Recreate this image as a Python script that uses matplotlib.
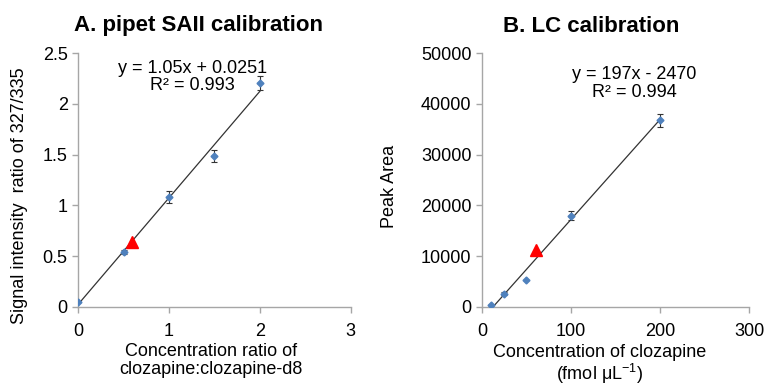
import numpy as np
import matplotlib.pyplot as plt

plt.rcParams['font.family'] = ['Liberation Sans', 'DejaVu Sans']
plt.rcParams['mathtext.fontset'] = 'custom'
plt.rcParams['mathtext.rm'] = 'Liberation Sans'
plt.rcParams['mathtext.it'] = 'Liberation Sans:italic'

# Panel A: pipet SAII calibration
a_x = [0, 0.5, 1, 1.5, 2]
a_y = [0.05, 0.54, 1.08, 1.49, 2.21]
a_err = [0.0, 0.02, 0.06, 0.06, 0.07]
a_sample = (0.59, 0.64)
a_fit = (1.05, 0.0251)

# Panel B: LC calibration
b_x = [10, 25, 50, 100, 200]
b_y = [400, 2600, 5300, 18000, 36800]
b_err = [0, 300, 0, 900, 1300]
b_sample = (61, 11200)
b_fit = (197, -2470)

blue = '#4F81BD'
grey = '#A6A6A6'

fig = plt.figure(figsize=(7.66, 3.91), dpi=100)
axA = fig.add_axes([0.102, 0.215, 0.356, 0.649])
axB = fig.add_axes([0.629, 0.215, 0.349, 0.649])


def style(ax):
    for s in ['top', 'right']:
        ax.spines[s].set_visible(False)
    for s in ['left', 'bottom']:
        ax.spines[s].set_color(grey)
        ax.spines[s].set_linewidth(1.0)
    ax.tick_params(axis='both', colors=grey, labelcolor='black',
                   labelsize=13, length=4, width=1)
    ax.tick_params(axis='x', pad=7.5)


# (A)
style(axA)
xs = np.array([0, 2])
axA.plot(xs, a_fit[0] * xs + a_fit[1], color='#333333', lw=0.9, zorder=2)
axA.errorbar(a_x, a_y, yerr=a_err, fmt='D', ms=3.5, color=blue,
             ecolor='#333333', elinewidth=0.8, capsize=2.5, capthick=0.8, zorder=3)
axA.plot(*a_sample, marker='^', color='red', ms=9, zorder=4)
axA.set_xlim(0, 3)
axA.set_ylim(0, 2.5)
axA.set_xticks([0, 1, 2, 3])
axA.set_yticks([0, 0.5, 1, 1.5, 2, 2.5])
axA.set_yticklabels(['0', '0.5', '1', '1.5', '2', '2.5'])
axA.text(0.42, 0.975, 'y = 1.05x + 0.0251\nR² = 0.993', transform=axA.transAxes,
         ha='center', va='top', fontsize=13, linespacing=1.0)

# (B)
style(axB)
x0 = -b_fit[1] / b_fit[0]
xs = np.array([x0, 200])
axB.plot(xs, b_fit[0] * xs + b_fit[1], color='#333333', lw=0.9, zorder=2)
axB.errorbar(b_x, b_y, yerr=b_err, fmt='D', ms=3.5, color=blue,
             ecolor='#333333', elinewidth=0.8, capsize=2.5, capthick=0.8, zorder=3)
axB.plot(*b_sample, marker='^', color='red', ms=9, zorder=4)
axB.set_xlim(0, 300)
axB.set_ylim(0, 50000)
axB.set_xticks([0, 100, 200, 300])
axB.set_yticks([0, 10000, 20000, 30000, 40000, 50000])
axB.text(0.57, 0.95, 'y = 197x - 2470\nR² = 0.994', transform=axB.transAxes,
         ha='center', va='top', fontsize=13, linespacing=1.05)

# titles and labels
fig.text(198 / 766, 1 - 26 / 391, 'A. pipet SAII calibration', ha='center', va='center',
         fontsize=16, fontweight='bold')
fig.text(591 / 766, 1 - 26 / 391, 'B. LC calibration', ha='center', va='center',
         fontsize=16, fontweight='bold')
fig.text(20 / 766, 1 - 196 / 391, 'Signal intensity  ratio of 327/335', rotation=90,
         ha='center', va='center', fontsize=13)
fig.text(390 / 766, 1 - 186 / 391, 'Peak Area', rotation=90,
         ha='center', va='center', fontsize=13)
fig.text(211 / 766, 1 - 343 / 391, 'Concentration ratio of\nclozapine:clozapine-d8',
         ha='center', va='top', fontsize=13, linespacing=1.05)
fig.text(600 / 766, 1 - 344 / 391, 'Concentration of clozapine\n(fmol μL$^{-1}$)',
         ha='center', va='top', fontsize=13, linespacing=1.05)

fig.savefig('out.png', dpi=100)
